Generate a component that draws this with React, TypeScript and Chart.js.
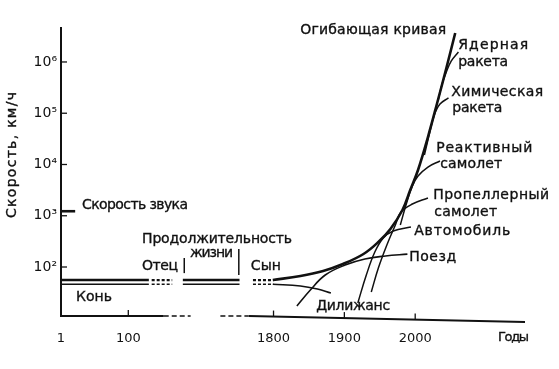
import { useEffect, useRef } from "react";
import { Chart, registerables } from "chart.js";

Chart.register(...registerables);

type P = [number, number];

// Broken time axis: positional units; the ancient part (years 1 and 100) is squeezed on the left.
const xTickValues = [1500, 1595, 1800, 1900, 2000];
const xTickLabels = ["1", "100", "1800", "1900", "2000"];
const yTickValues = [1e2, 1e3, 1e4, 1e5, 1e6];
const yTickLabels = ["10²", "10³", "10⁴", "10⁵", "10⁶"];

// Horse / stagecoach speed levels (km/h) and the pieces of the interrupted lines
const horseLevel = 55.7;
const coachLevel = 46;
const solidSpans: P[] = [[1500, 1624], [1672, 1752]];
const dottedSpans: P[] = [[1628, 1657], [1771, 1800]];

// Axis pieces (solid and dashed) of the broken time axis
const axisSolidSpans: P[] = [[1500, 1645], [1765, 2155]];
const axisDashSpans: P[] = [[1645, 1683], [1725, 1765]];

// Curves: [position on time axis, speed km/h]
const envelope: P[] = [
  [1799, 55.7], [1838, 66.7], [1870, 83.6], [1898, 114.4], [1927, 179.5], [1948, 307.6],
  [1965, 551], [1982, 1294], [1993, 3177], [2004, 7812], [2018, 34400], [2031, 158500],
  [2044, 764000], [2056.5, 3680000],
];
const coachDecline: P[] = [[1799, 46], [1838, 42.6], [1862, 37.2], [1881, 31.1]];
const train: P[] = [[1833, 17.4], [1852, 35.6], [1873, 69.8], [1901, 109], [1929, 143], [1958, 164], [1989, 178]];
const car: P[] = [[1919, 19.9], [1931, 69.8], [1943, 196], [1955, 368], [1969, 504], [1994, 603]];
const propeller: P[] = [[1938, 32.5], [1948, 95.6], [1960, 269], [1972, 660], [1980, 1183], [1996, 1693], [2018, 2218]];
const jet: P[] = [[1979, 660], [1987, 1622], [1996, 3802], [2004, 5970], [2018, 8930], [2035, 11700]];
const chemicalRocket: P[] = [[2013, 15300], [2020, 39400], [2027, 92500], [2035, 151400], [2047, 198600]];
const nuclearRocket: P[] = [[2032.5, 181000], [2038, 372000], [2044, 638000], [2051, 1047000], [2061, 1567000]];
const soundMark: P[] = [[1500, 1225], [1520, 1225]];
const fatherBar: P[] = [[1674, 76], [1674, 150]];
const sonBar: P[] = [[1751, 70], [1751, 224]];

// Annotation texts anchored in data coordinates (left edge, vertical centre)
const labelTexts = [
  "Огибающая кривая", "Ядерная", "ракета", "Химическая", "ракета", "Реактивный", "самолет",
  "Пропеллерный", "самолет", "Автомобиль", "Поезд", "Дилижанс", "Скорость звука",
  "Продолжительность", "жизни", "Отец", "Сын", "Конь",
];
const labelX = [1837.6, 2060.7, 2060.7, 2050.8, 2052.3, 2029.7, 2035.3, 2025.4, 2026.8, 1998.6, 1991.5, 1860.2, 1529.7, 1614.4, 1682.2, 1614.4, 1768, 1521.2];
const labelY = [4.21e6, 2.15e6, 1.0e6, 2.6e5, 1.26e5, 2.1e4, 1.02e4, 2540, 1183, 504, 157, 17.4, 1622, 352, 188, 104.6, 104.6, 26];
const labelW = [146, 70, 50, 92, 50, 96, 62, 116, 63, 96, 47, 74, 106, 150, 43, 36, 30, 36];

const yTitle = "Скорость, км/ч";
const xTitle = "Годы";

const INK = "#111111";
const FONT = "'DejaVu Sans', 'Noto Sans', sans-serif";

function fillFitted(ctx: CanvasRenderingContext2D, text: string, x: number, y: number, w: number) {
  (ctx as any).letterSpacing = "0px";
  const m = ctx.measureText(text).width;
  let ls = (w - m) / Math.max(1, text.length - 1);
  ls = Math.max(-1.5, Math.min(2.5, ls));
  (ctx as any).letterSpacing = `${ls}px`;
  ctx.fillText(text, x, y);
  ctx.strokeText(text, x, y);
  (ctx as any).letterSpacing = "0px";
}

export default function App() {
  const ref = useRef<HTMLCanvasElement>(null);

  useEffect(() => {
    const canvas = ref.current!;
    const mk = (pts: P[], width: number, dash: number[] = [], smooth = true) => ({
      data: pts.map(([x, y]) => ({ x, y })),
      borderColor: INK,
      borderWidth: width,
      borderDash: dash,
      pointRadius: 0,
      fill: false,
      tension: smooth ? 0.4 : 0,
      cubicInterpolationMode: "default" as const,
      borderCapStyle: "butt" as const,
      borderJoinStyle: "round" as const,
    });

    const datasets: any[] = [
      ...solidSpans.map(([a, b]) => mk([[a, horseLevel], [b, horseLevel]], 2.6, [], false)),
      ...solidSpans.map(([a, b]) => mk([[a, coachLevel], [b, coachLevel]], 1.6, [], false)),
      ...dottedSpans.map(([a, b]) => mk([[a, horseLevel], [b, horseLevel]], 2.2, [3, 2], false)),
      ...dottedSpans.map(([a, b]) => mk([[a, coachLevel], [b, coachLevel]], 1.6, [3, 2], false)),
      mk(envelope, 2.6),
      mk(coachDecline, 1.6),
      mk(train, 1.6),
      mk(car, 1.5),
      mk(propeller, 1.5),
      mk(jet, 1.5),
      mk(chemicalRocket, 1.5),
      mk(nuclearRocket, 1.5),
      mk(soundMark, 2.6, [], false),
      mk(fatherBar, 1.5, [], false),
      mk(sonBar, 1.5, [], false),
    ];

    const deco = {
      id: "deco",
      afterDraw(c: any) {
        const { ctx, chartArea: ca, scales } = c;
        const xs = scales.x;
        const ys = scales.y;
        ctx.save();
        ctx.strokeStyle = INK;
        ctx.fillStyle = INK;
        const tiltStart = xs.getPixelForValue(axisSolidSpans[1][0]);
        const axisY = (px: number) =>
          px <= tiltStart ? ca.bottom : ca.bottom + ((px - tiltStart) / (ca.right - tiltStart)) * 6;

        // time axis (broken)
        ctx.lineWidth = 2;
        for (const [a, b] of axisSolidSpans) {
          const pa = xs.getPixelForValue(a);
          const pb = xs.getPixelForValue(b);
          ctx.setLineDash([]);
          ctx.beginPath();
          ctx.moveTo(pa - (a === xTickValues[0] ? 1 : 0), axisY(pa));
          ctx.lineTo(pb, axisY(pb));
          ctx.stroke();
        }
        ctx.lineWidth = 1.5;
        for (const [a, b] of axisDashSpans) {
          const pa = xs.getPixelForValue(a);
          const pb = xs.getPixelForValue(b);
          ctx.setLineDash([5, 3]);
          ctx.beginPath();
          ctx.moveTo(pa, axisY(pa));
          ctx.lineTo(pb, axisY(pb));
          ctx.stroke();
        }
        ctx.setLineDash([]);
        // inward ticks on time axis
        ctx.lineWidth = 1.3;
        for (const v of xTickValues.slice(1)) {
          const px = xs.getPixelForValue(v);
          ctx.beginPath();
          ctx.moveTo(px, axisY(px));
          ctx.lineTo(px, axisY(px) - 6);
          ctx.stroke();
        }
        // inward ticks on speed axis
        for (const v of yTickValues) {
          const py = ys.getPixelForValue(v);
          ctx.beginPath();
          ctx.moveTo(ca.left, py);
          ctx.lineTo(ca.left + 6, py);
          ctx.stroke();
        }

        // annotation texts (slightly heavy, like the printed original)
        ctx.lineWidth = 0.35;
        ctx.font = `14px ${FONT}`;
        ctx.textAlign = "left";
        ctx.textBaseline = "middle";
        labelTexts.forEach((t, i) => {
          fillFitted(ctx, t, xs.getPixelForValue(labelX[i]), ys.getPixelForValue(labelY[i]), labelW[i]);
        });
        // x title
        ctx.font = `13px ${FONT}`;
        fillFitted(ctx, xTitle, ca.right - 27, ca.bottom + 22, 31);
        // y title
        ctx.font = `14px ${FONT}`;
        ctx.translate(12, 155);
        ctx.rotate(-Math.PI / 2);
        ctx.textAlign = "left";
        fillFitted(ctx, yTitle, -63, 0, 126);
        ctx.restore();
      },
    };

    const chart = new Chart(canvas, {
      type: "line",
      data: { datasets },
      options: {
        animation: false,
        responsive: false,
        devicePixelRatio: 1,
        layout: { padding: { top: 28, right: 34, left: 0, bottom: 0 } },
        plugins: { legend: { display: false }, tooltip: { enabled: false }, title: { display: false } },
        elements: { point: { radius: 0 } },
        scales: {
          x: {
            type: "linear",
            min: 1500,
            max: 2155,
            afterBuildTicks: (s: any) => {
              s.ticks = xTickValues.map((value) => ({ value }));
            },
            afterFit: (s: any) => {
              s.height = 53;
            },
            ticks: {
              autoSkip: false,
              maxRotation: 0,
              padding: 15,
              color: INK,
              font: { family: FONT, size: 13 },
              callback: (_v: any, i: number) => xTickLabels[i],
            },
            grid: { display: false, drawTicks: false },
            border: { display: false },
          },
          y: {
            type: "logarithmic",
            min: 11.07,
            max: 4.6e6,
            afterBuildTicks: (s: any) => {
              s.ticks = yTickValues.map((value) => ({ value }));
            },
            afterFit: (s: any) => {
              s.width = 61;
            },
            ticks: {
              autoSkip: false,
              padding: 4,
              color: INK,
              font: { family: FONT, size: 14 },
              callback: (_v: any, i: number) => yTickLabels[i],
            },
            grid: { display: false, drawTicks: false },
            border: { display: true, color: INK, width: 2 },
          },
        },
      },
      plugins: [deco],
    } as any);

    return () => chart.destroy();
  }, []);

  return (
    <div style={{ position: "fixed", left: 0, top: 0, width: 559, height: 369, background: "#fff" }}>
      <canvas ref={ref} width={559} height={369} style={{ display: "block", width: 559, height: 369 }} />
    </div>
  );
}
